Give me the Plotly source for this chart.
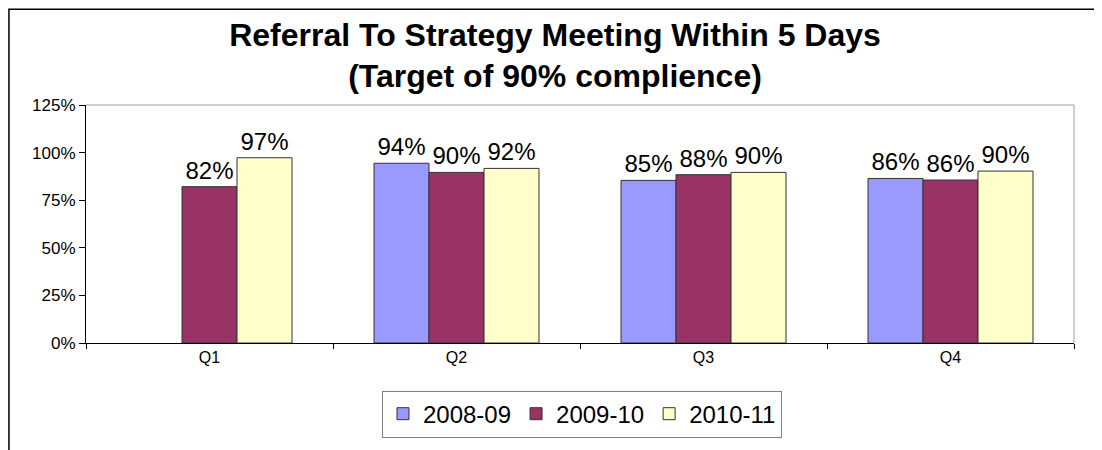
import plotly.graph_objects as go

# data
quarters = ["Q1", "Q2", "Q3", "Q4"]
series_names = ["2008-09", "2009-10", "2010-11"]
values_0809 = [None, 0.944, 0.854, 0.864]
values_0910 = [0.821, 0.896, 0.884, 0.856]
values_1011 = [0.973, 0.917, 0.896, 0.903]
bar_colors = ["#9999FF", "#993366", "#FFFFCC"]

FONT = "Liberation Sans, Arial, sans-serif"

fig = go.Figure()
for name, vals, col in zip(series_names, [values_0809, values_0910, values_1011], bar_colors):
    fig.add_trace(go.Bar(
        x=quarters,
        y=vals,
        name=name,
        marker=dict(color=col, line=dict(color="#333333", width=1)),
        texttemplate="%{y:.0%}",
        textposition="outside",
        constraintext="none",
        cliponaxis=False,
        textfont=dict(family=FONT, size=24, color="black"),
    ))

# plot area border (top/right gray) and outer chart border
shapes = [
    dict(type="line", xref="paper", yref="paper", x0=0, x1=1, y0=1, y1=1,
         line=dict(color="#a0a0a0", width=1)),
    dict(type="line", xref="paper", yref="paper", x0=1, x1=1, y0=0, y1=1,
         line=dict(color="#a0a0a0", width=1)),
    dict(type="rect", xref="paper", yref="paper", x0=-0.078, x1=1.04, y0=-0.55, y1=1.402,
         line=dict(color="black", width=1.5)),
]

# page body adds an 8px margin, so the figure is 8px smaller than the window
fig.update_layout(
    width=1094, height=442,
    margin=dict(l=78, r=28, t=97, b=99),
    paper_bgcolor="white", plot_bgcolor="white",
    barmode="group", bargap=0.332, bargroupgap=0,
    title=dict(
        text="<b>Referral To Strategy Meeting Within 5 Days<br>(Target of 90% complience)</b>",
        x=0.5, xanchor="center", y=0.915, yanchor="middle",
        font=dict(family=FONT, size=32, color="black"),
    ),
    xaxis=dict(
        showline=True, linecolor="black", linewidth=1,
        ticks="outside", tickson="boundaries", ticklen=5, tickcolor="black",
        tickfont=dict(family=FONT, size=16, color="black"),
        showgrid=False,
    ),
    yaxis=dict(
        range=[0, 1.25], dtick=0.25, tickformat=".0%",
        showline=True, linecolor="black", linewidth=1,
        ticks="outside", ticklen=6, tickcolor="black",
        tickfont=dict(family=FONT, size=17, color="black"),
        showgrid=False, zeroline=False,
    ),
    legend=dict(
        orientation="h", x=0.502, xanchor="center", y=-0.2, yanchor="top",
        bordercolor="#808080", borderwidth=1,
        font=dict(family=FONT, size=24, color="black"),
        itemwidth=30,
    ),
    shapes=shapes,
)

fig.write_html("out.html")
